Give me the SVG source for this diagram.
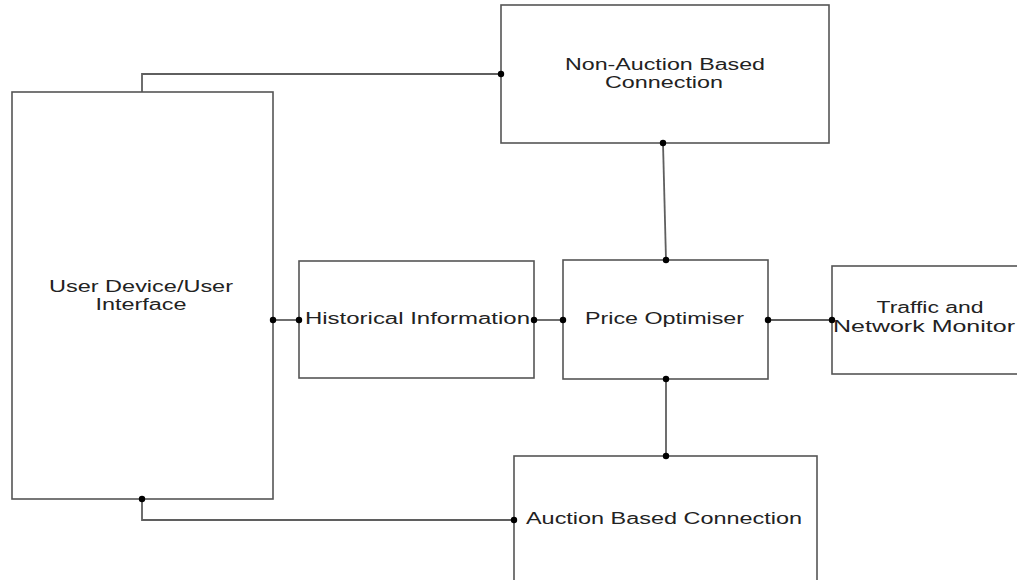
<svg xmlns="http://www.w3.org/2000/svg" width="1017" height="580" viewBox="0 0 1017 580">
  <style>
    .box { fill: #ffffff; stroke: #555555; stroke-width: 1.6; }
    .wire { fill: none; stroke: #5f5f5f; stroke-width: 1.8; }
    .dot { fill: #000000; }
    .label { font-family: "Liberation Sans", Arial, sans-serif; font-size: 16px; fill: #222222; }
  </style>
  <rect width="1017" height="580" fill="#ffffff"/>

  <!-- connectors -->
  <g id="connectors">
    <polyline class="wire" points="142,92 142,74 501,74"/>
    <line class="wire" x1="663" y1="143" x2="666" y2="260"/>
    <line class="wire" x1="273" y1="320" x2="299" y2="320"/>
    <line class="wire" x1="534" y1="320" x2="563" y2="320"/>
    <line class="wire" x1="768" y1="320" x2="832" y2="320"/>
    <line class="wire" x1="666" y1="379" x2="666" y2="456"/>
    <polyline class="wire" points="142,499 142,520 514,520"/>
  </g>

  <!-- nodes -->
  <g id="user-device">
    <rect class="box" x="12" y="92" width="261" height="407"/>
    <text class="label" x="141" y="292" text-anchor="middle" textLength="184" lengthAdjust="spacingAndGlyphs">User Device/User</text>
    <text class="label" x="141" y="310" text-anchor="middle" textLength="91" lengthAdjust="spacingAndGlyphs">Interface</text>
  </g>

  <g id="non-auction">
    <rect class="box" x="501" y="5" width="328" height="138"/>
    <text class="label" x="665" y="69.5" text-anchor="middle" textLength="200" lengthAdjust="spacingAndGlyphs">Non-Auction Based</text>
    <text class="label" x="664" y="87.5" text-anchor="middle" textLength="118" lengthAdjust="spacingAndGlyphs">Connection</text>
  </g>

  <g id="historical">
    <rect class="box" x="299" y="261" width="235" height="117"/>
    <text class="label" x="417.5" y="324" text-anchor="middle" textLength="225" lengthAdjust="spacingAndGlyphs">Historical Information</text>
  </g>

  <g id="price-optimiser">
    <rect class="box" x="563" y="260" width="205" height="119"/>
    <text class="label" x="664.5" y="324" text-anchor="middle" textLength="159" lengthAdjust="spacingAndGlyphs">Price Optimiser</text>
  </g>

  <g id="traffic-monitor">
    <rect class="box" x="832" y="266" width="220" height="108"/>
    <text class="label" x="930" y="313" text-anchor="middle" textLength="107" lengthAdjust="spacingAndGlyphs">Traffic and</text>
    <text class="label" x="924" y="332" text-anchor="middle" textLength="182" lengthAdjust="spacingAndGlyphs">Network Monitor</text>
  </g>

  <g id="auction">
    <rect class="box" x="514" y="456" width="303" height="140"/>
    <text class="label" x="526" y="524" textLength="276" lengthAdjust="spacingAndGlyphs">Auction Based Connection</text>
  </g>

  <!-- junction dots -->
  <g id="junctions">
    <circle class="dot" cx="501" cy="74" r="3.2"/>
    <circle class="dot" cx="663" cy="143" r="3.2"/>
    <circle class="dot" cx="666" cy="260" r="3.2"/>
    <circle class="dot" cx="273" cy="320" r="3.2"/>
    <circle class="dot" cx="299" cy="320" r="3.2"/>
    <circle class="dot" cx="534" cy="320" r="3.2"/>
    <circle class="dot" cx="563" cy="320" r="3.2"/>
    <circle class="dot" cx="768" cy="320" r="3.2"/>
    <circle class="dot" cx="832" cy="320" r="3.2"/>
    <circle class="dot" cx="666" cy="379" r="3.2"/>
    <circle class="dot" cx="666" cy="456" r="3.2"/>
    <circle class="dot" cx="142" cy="499" r="3.2"/>
    <circle class="dot" cx="514" cy="520" r="3.2"/>
  </g>
</svg>
